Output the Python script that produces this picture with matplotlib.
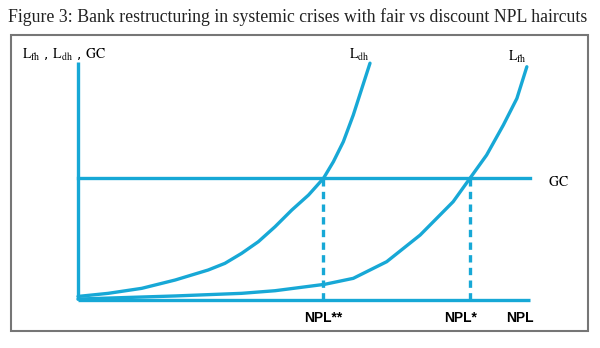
import matplotlib
matplotlib.use("Agg")
import matplotlib.pyplot as plt
from matplotlib.patches import Rectangle

# curve points (NPL on x, losses / capital on y, 0-100 units)
ldh_x = [0, 6.7, 14.1, 21.5, 28.8, 32.5, 36.2, 39.9, 43.6, 47.3, 51.0, 54.3,
         56.5, 58.7, 60.9, 62.8, 64.6]
ldh_y = [1.5, 2.8, 4.9, 8.4, 12.6, 15.4, 19.6, 24.5, 30.8, 37.8, 44.1, 51.1,
         58.1, 66.5, 77.7, 88.9, 99.5]
lfh_x = [0, 21.5, 36.2, 43.6, 54.6, 60.9, 68.3, 75.7, 83.0, 86.7, 90.4, 94.1,
         97.1, 99.3]
lfh_y = [0.4, 1.7, 2.8, 3.9, 6.6, 9.1, 16.1, 27.3, 41.3, 51.1, 60.9, 73.5,
         84.7, 98.0]
gc_level = 51.1
npl_dd = 54.2   # NPL**
npl_f = 86.7    # NPL*
x_max = 100
y_max = 100

title = "Figure 3: Bank restructuring in systemic crises with fair vs discount NPL haircuts"
blue = "#17a8d6"

plt.rcParams["mathtext.fontset"] = "stix"

W, H = 600, 348
fig = plt.figure(figsize=(6, 3.48), dpi=100)
fig.patch.set_facecolor("white")

# frame around the chart
fig.patches.append(Rectangle((11 / W, 1 - 331 / H), 577 / W, 296 / H,
                             transform=fig.transFigure, fill=False,
                             edgecolor="#767676", linewidth=1.5))

fig.text(8 / W, 1 - 17 / H, title, fontsize=12.8, family="Liberation Serif",
         va="center", ha="left", color="#222222")

ax = fig.add_axes([78 / W, 1 - 300 / H, 452 / W, 238 / H])
ax.set_xlim(0, x_max)
ax.set_ylim(0, y_max)
ax.axis("off")

lw = 2.4
ax.plot([0, 0], [0, y_max], color=blue, lw=lw, clip_on=False, solid_capstyle="butt")
ax.plot([0, x_max], [0, 0], color=blue, lw=lw, clip_on=False, solid_capstyle="butt")
ax.plot([0, x_max], [gc_level, gc_level], color=blue, lw=lw, clip_on=False)
ax.plot(ldh_x, ldh_y, color=blue, lw=lw, clip_on=False,
        solid_capstyle="round", solid_joinstyle="round")
ax.plot(lfh_x, lfh_y, color=blue, lw=lw, clip_on=False,
        solid_capstyle="round", solid_joinstyle="round")
for xv in (npl_dd, npl_f):
    ax.plot([xv, xv], [0, gc_level], color=blue, lw=lw, ls=(0, (2.2, 1.6)),
            clip_on=False)

serif = dict(fontsize=10, color="black", clip_on=False)
ax.text(-12.4, 103, r"$\mathrm{L_{fh}}$ , $\mathrm{L_{dh}}$ , $\mathrm{GC}$",
        ha="left", va="center", **serif)
ax.text(62.2, 103, r"$\mathrm{L_{dh}}$", ha="center", va="center", **serif)
ax.text(97.3, 102, r"$\mathrm{L_{fh}}$", ha="center", va="center", **serif)
ax.text(106.2, 49.6, r"$\mathrm{GC}$", ha="center", va="center", **serif)

sans = dict(fontsize=10, fontweight="bold", family="Liberation Sans",
            color="black", ha="center", va="center", clip_on=False)
ax.text(npl_dd, -7.6, "NPL**", **sans)
ax.text(npl_f - 2, -7.6, "NPL*", **sans)
ax.text(97.8, -7.6, "NPL", **sans)

fig.savefig("out.png", dpi=100, facecolor="white")
